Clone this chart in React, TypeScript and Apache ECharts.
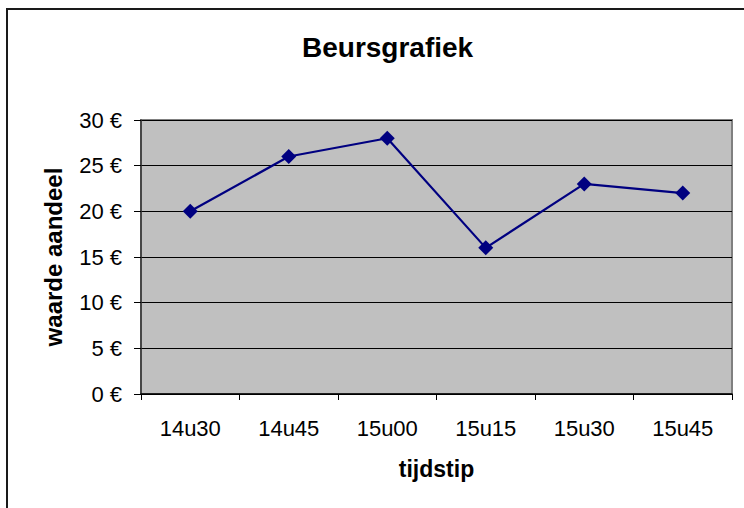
import React, { useEffect, useRef } from "react";
import * as echarts from "echarts";

const categories = ["14u30", "14u45", "15u00", "15u15", "15u30", "15u45"];
const values = [20, 26, 28, 16, 23, 22];
const yTicks = [0, 5, 10, 15, 20, 25, 30];

const FONT = "'Liberation Sans', Arial, sans-serif";

export default function App() {
  const ref = useRef<HTMLDivElement>(null);
  useEffect(() => {
    if (!ref.current) return;
    const chart = echarts.init(ref.current, null, { renderer: "svg" });
    chart.setOption({
      animation: false,
      backgroundColor: "#ffffff",
      textStyle: { fontFamily: FONT },
      title: {
        text: "Beursgrafiek",
        left: 297,
        top: 28,
        textStyle: { fontFamily: FONT, fontSize: 28, fontWeight: "bold", color: "#000" },
      },
      graphic: [
        {
          type: "rect",
          shape: { x: 7, y: 9, width: 900, height: 700 },
          style: { fill: "none", stroke: "#1a1a1a", lineWidth: 2 },
          z: 100,
          silent: true,
        },
      ],
      grid: {
        left: 141,
        right: 12,
        top: 120,
        bottom: 114,
        show: true,
        backgroundColor: "#c0c0c0",
        borderColor: "#808080",
        borderWidth: 2,
      },
      xAxis: {
        type: "category",
        data: categories,
        boundaryGap: true,
        name: "tijdstip",
        nameLocation: "middle",
        nameGap: 63,
        nameTextStyle: { fontFamily: FONT, fontSize: 23, fontWeight: "bold", color: "#000" },
        axisLine: { show: true, lineStyle: { color: "#000", width: 1.5 } },
        axisTick: { show: true, alignWithLabel: false, length: 6, lineStyle: { color: "#000" } },
        axisLabel: { fontFamily: FONT, fontSize: 22, color: "#000", margin: 23 },
        splitLine: { show: false },
      },
      yAxis: {
        type: "value",
        min: 0,
        max: 30,
        interval: 5,
        name: "waarde aandeel",
        nameLocation: "middle",
        nameGap: 76,
        nameTextStyle: { fontFamily: FONT, fontSize: 24, fontWeight: "bold", color: "#000" },
        axisLine: { show: true, lineStyle: { color: "#333", width: 1.5 } },
        axisTick: { show: true, length: 7, lineStyle: { color: "#000" } },
        axisLabel: {
          fontFamily: FONT,
          fontSize: 22,
          color: "#000",
          margin: 19,
          formatter: (v: number) => (yTicks.includes(v) ? `${v} €` : ""),
        },
        splitLine: { show: true, lineStyle: { color: "#000", width: 1 } },
      },
      series: [
        {
          type: "line",
          data: values,
          symbol: "diamond",
          symbolSize: 15,
          showSymbol: true,
          lineStyle: { color: "#000080", width: 2.2 },
          itemStyle: { color: "#000080" },
        },
      ],
    });
    return () => chart.dispose();
  }, []);
  return (
    <div
      ref={ref}
      style={{ position: "fixed", left: 0, top: 0, width: 744, height: 508 }}
    />
  );
}
